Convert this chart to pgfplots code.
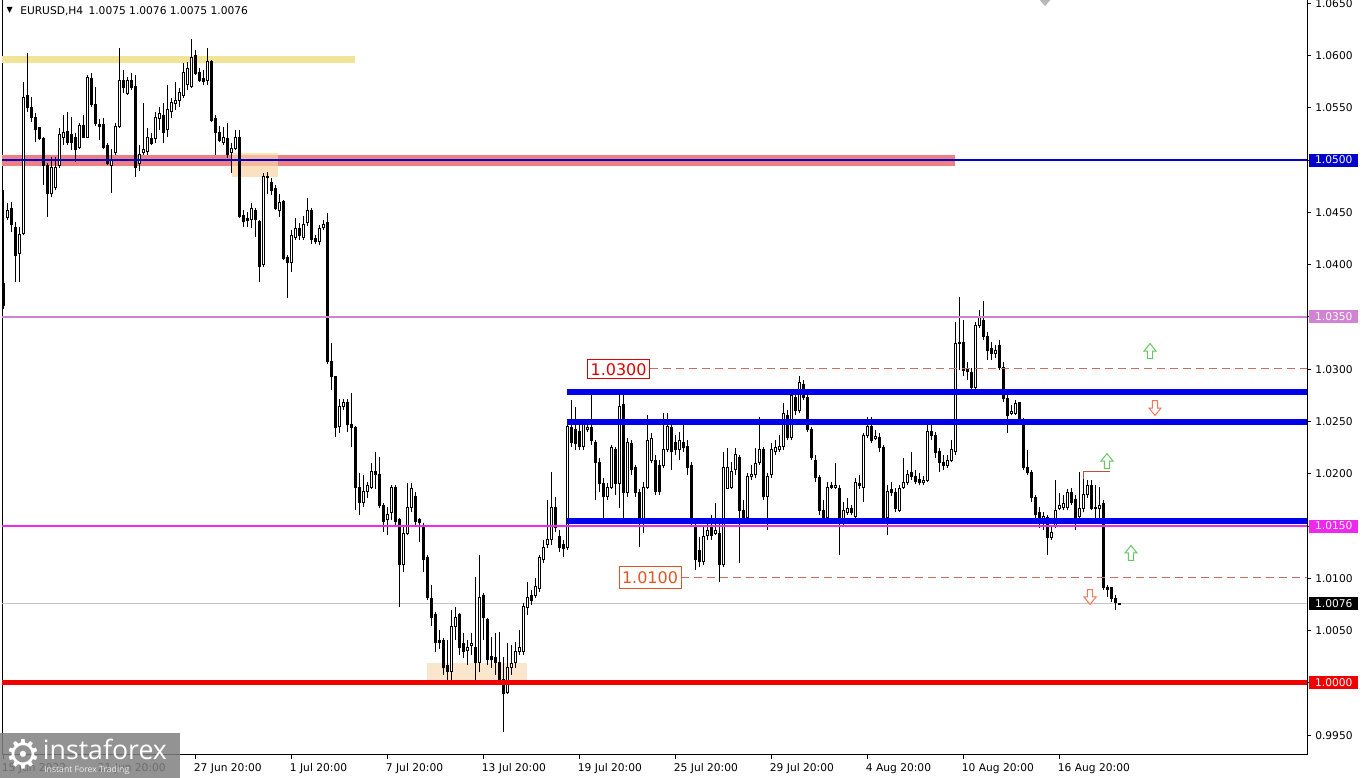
\documentclass[border=0pt]{standalone}
\usepackage{pgfplots}
\pgfplotsset{compat=1.18}
\usepackage{pgfplotstable}
\usepackage{fontspec}
\setmainfont{DejaVu Sans}
\newfontfamily\logofont{Open Sans}
\definecolor{mtblue}{RGB}{0,0,205}
\definecolor{bandblue}{RGB}{0,0,235}
\definecolor{yband}{RGB}{242,228,150}
\definecolor{salmon}{RGB}{240,128,128}
\definecolor{peach}{RGB}{250,212,165}
\definecolor{peachb}{RGB}{250,230,205}
\definecolor{orch}{RGB}{210,130,210}
\definecolor{magen}{RGB}{238,40,238}
\definecolor{redline}{RGB}{240,0,0}
\definecolor{dashc}{RGB}{200,110,100}
\definecolor{lab1}{RGB}{225,0,0}
\definecolor{lab2}{RGB}{225,85,35}
\definecolor{agreen}{RGB}{100,200,100}
\definecolor{ared}{RGB}{240,120,90}
\definecolor{brownr}{RGB}{180,80,70}
\newcommand{\pricebox}[3]{\node[anchor=west, fill=#2, text=white, inner sep=0pt, minimum width=36.75pt, minimum height=9.75pt, font=\fontsize{8}{9}\selectfont] at ([xshift=1.5pt]axis cs:326,#1) {#3};}
\newcommand{\uparr}[2]{\draw[agreen, line width=0.75pt, fill=white, shift={(axis cs:#1,#2)}] (-1.9pt,-5.6pt) -- (1.9pt,-5.6pt) -- (1.9pt,0pt) -- (4.5pt,0pt) -- (0pt,5.6pt) -- (-4.5pt,0pt) -- (-1.9pt,0pt) -- cycle;}
\newcommand{\dnarr}[2]{\draw[ared, line width=0.75pt, fill=white, shift={(axis cs:#1,#2)}] (-1.9pt,5.6pt) -- (1.9pt,5.6pt) -- (1.9pt,0pt) -- (4.5pt,0pt) -- (0pt,-5.6pt) -- (-4.5pt,0pt) -- (-1.9pt,0pt) -- cycle;}
\pgfplotsset{candle/.style={draw=none, mark=none, forget plot, /pgfplots/error bars/y dir=plus, /pgfplots/error bars/y explicit, /pgfplots/error bars/error mark=none}}
\begin{document}
\pgfplotstableread{
i o h l c
0 1.0382 1.0471 1.0358 1.0361
1 1.0445 1.0459 1.0443 1.0452
2 1.0454 1.0460 1.0431 1.0438
3 1.0436 1.0441 1.0383 1.0409
4 1.0411 1.0436 1.0383 1.0429
5 1.0430 1.0575 1.0428 1.0560
6 1.0562 1.0602 1.0546 1.0550
7 1.0550 1.0560 1.0536 1.0541
8 1.0541 1.0545 1.0517 1.0529
9 1.0531 1.0532 1.0519 1.0521
10 1.0521 1.0522 1.0476 1.0495
11 1.0495 1.0497 1.0446 1.0468
12 1.0468 1.0503 1.0465 1.0493
13 1.0474 1.0503 1.0471 1.0493
14 1.0495 1.0531 1.0492 1.0524
15 1.0522 1.0543 1.0514 1.0526
16 1.0527 1.0546 1.0514 1.0517
17 1.0524 1.0541 1.0510 1.0517
18 1.0522 1.0526 1.0498 1.0510
19 1.0512 1.0535 1.0511 1.0533
20 1.0533 1.0543 1.0521 1.0522
21 1.0522 1.0581 1.0521 1.0579
22 1.0578 1.0583 1.0551 1.0553
23 1.0553 1.0570 1.0533 1.0535
24 1.0534 1.0539 1.0519 1.0532
25 1.0534 1.0540 1.0511 1.0512
26 1.0514 1.0516 1.0495 1.0497
27 1.0495 1.0511 1.0469 1.0500
28 1.0507 1.0535 1.0505 1.0532
29 1.0532 1.0607 1.0531 1.0576
30 1.0576 1.0586 1.0564 1.0569
31 1.0564 1.0579 1.0562 1.0576
32 1.0576 1.0583 1.0567 1.0569
33 1.0570 1.0581 1.0484 1.0493
34 1.0497 1.0514 1.0490 1.0505
35 1.0507 1.0555 1.0505 1.0510
36 1.0508 1.0531 1.0505 1.0522
37 1.0521 1.0526 1.0514 1.0516
38 1.0521 1.0546 1.0516 1.0541
39 1.0540 1.0551 1.0529 1.0545
40 1.0543 1.0555 1.0516 1.0526
41 1.0529 1.0572 1.0522 1.0548
42 1.0546 1.0559 1.0540 1.0555
43 1.0554 1.0575 1.0548 1.0557
44 1.0557 1.0569 1.0551 1.0565
45 1.0562 1.0593 1.0559 1.0584
46 1.0572 1.0594 1.0567 1.0588
47 1.0570 1.0616 1.0569 1.0598
48 1.0600 1.0605 1.0581 1.0583
49 1.0584 1.0588 1.0575 1.0576
50 1.0578 1.0586 1.0572 1.0575
51 1.0576 1.0607 1.0572 1.0594
52 1.0594 1.0596 1.0536 1.0538
53 1.0540 1.0543 1.0505 1.0526
54 1.0526 1.0533 1.0517 1.0519
55 1.0517 1.0532 1.0514 1.0522
56 1.0521 1.0535 1.0502 1.0505
57 1.0507 1.0516 1.0488 1.0511
58 1.0511 1.0529 1.0510 1.0522
59 1.0522 1.0529 1.0445 1.0446
60 1.0447 1.0452 1.0436 1.0441
61 1.0444 1.0450 1.0436 1.0442
62 1.0443 1.0459 1.0435 1.0454
63 1.0452 1.0454 1.0426 1.0443
64 1.0441 1.0443 1.0383 1.0398
65 1.0400 1.0488 1.0398 1.0484
66 1.0483 1.0489 1.0468 1.0484
67 1.0479 1.0483 1.0467 1.0471
68 1.0473 1.0476 1.0452 1.0454
69 1.0452 1.0468 1.0446 1.0459
70 1.0460 1.0462 1.0404 1.0406
71 1.0407 1.0409 1.0368 1.0402
72 1.0402 1.0433 1.0393 1.0428
73 1.0426 1.0445 1.0424 1.0435
74 1.0435 1.0440 1.0424 1.0428
75 1.0426 1.0447 1.0424 1.0438
76 1.0440 1.0464 1.0437 1.0452
77 1.0452 1.0454 1.0420 1.0424
78 1.0425 1.0428 1.0420 1.0422
79 1.0422 1.0438 1.0419 1.0435
80 1.0436 1.0443 1.0433 1.0438
81 1.0440 1.0449 1.0305 1.0307
82 1.0307 1.0325 1.0280 1.0293
83 1.0293 1.0294 1.0235 1.0244
84 1.0245 1.0272 1.0239 1.0264
85 1.0264 1.0272 1.0261 1.0268
86 1.0268 1.0272 1.0240 1.0247
87 1.0247 1.0277 1.0226 1.0244
88 1.0244 1.0246 1.0165 1.0187
89 1.0187 1.0201 1.0161 1.0173
90 1.0173 1.0199 1.0168 1.0183
91 1.0183 1.0192 1.0177 1.0189
92 1.0187 1.0210 1.0185 1.0202
93 1.0202 1.0221 1.0185 1.0199
94 1.0199 1.0216 1.0167 1.0170
95 1.0170 1.0172 1.0144 1.0154
96 1.0156 1.0168 1.0141 1.0161
97 1.0163 1.0189 1.0156 1.0187
98 1.0187 1.0189 1.0151 1.0154
99 1.0156 1.0158 1.0073 1.0113
100 1.0113 1.0149 1.0106 1.0143
101 1.0143 1.0191 1.0141 1.0168
102 1.0168 1.0191 1.0163 1.0186
103 1.0178 1.0183 1.0151 1.0154
104 1.0156 1.0158 1.0135 1.0153
105 1.0151 1.0153 1.0106 1.0118
106 1.0120 1.0122 1.0079 1.0082
107 1.0081 1.0094 1.0054 1.0063
108 1.0065 1.0068 1.0030 1.0039
109 1.0041 1.0051 1.0032 1.0039
110 1.0041 1.0043 1.0008 1.0015
111 1.0017 1.0041 1.0003 1.0011
112 1.0011 1.0070 1.0003 1.0054
113 1.0054 1.0073 1.0041 1.0063
114 1.0065 1.0067 1.0027 1.0034
115 1.0038 1.0048 1.0024 1.0030
116 1.0031 1.0041 1.0017 1.0034
117 1.0036 1.0048 1.0027 1.0038
118 1.0034 1.0101 1.0003 1.0020
119 1.0020 1.0122 1.0010 1.0082
120 1.0084 1.0086 1.0041 1.0063
121 1.0061 1.0062 1.0017 1.0022
122 1.0025 1.0044 1.0014 1.0022
123 1.0024 1.0048 1.0008 1.0020
124 1.0020 1.0049 0.9998 1.0003
125 1.0003 1.0025 0.9953 0.9990
126 0.9991 1.0038 0.9989 1.0015
127 1.0015 1.0036 1.0008 1.0019
128 1.0020 1.0039 1.0014 1.0030
129 1.0030 1.0051 1.0027 1.0034
130 1.0030 1.0076 1.0027 1.0073
131 1.0072 1.0097 1.0065 1.0082
132 1.0084 1.0089 1.0075 1.0079
133 1.0084 1.0100 1.0081 1.0092
134 1.0090 1.0122 1.0087 1.0120
135 1.0118 1.0137 1.0115 1.0130
136 1.0132 1.0175 1.0129 1.0137
137 1.0137 1.0202 1.0132 1.0168
138 1.0168 1.0178 1.0144 1.0149
139 1.0140 1.0146 1.0125 1.0130
140 1.0132 1.0137 1.0120 1.0129
141 1.0130 1.0247 1.0127 1.0245
142 1.0244 1.0271 1.0226 1.0230
143 1.0242 1.0264 1.0223 1.0229
144 1.0240 1.0247 1.0223 1.0226
145 1.0226 1.0251 1.0223 1.0247
146 1.0242 1.0250 1.0240 1.0244
147 1.0244 1.0275 1.0228 1.0232
148 1.0230 1.0232 1.0175 1.0211
149 1.0211 1.0215 1.0183 1.0191
150 1.0191 1.0196 1.0158 1.0178
151 1.0178 1.0191 1.0175 1.0187
152 1.0187 1.0228 1.0185 1.0225
153 1.0223 1.0226 1.0180 1.0191
154 1.0191 1.0277 1.0167 1.0264
155 1.0266 1.0277 1.0156 1.0182
156 1.0182 1.0234 1.0178 1.0230
157 1.0229 1.0232 1.0199 1.0204
158 1.0206 1.0208 1.0178 1.0182
159 1.0182 1.0185 1.0130 1.0153
160 1.0153 1.0192 1.0143 1.0187
161 1.0187 1.0256 1.0185 1.0232
162 1.0213 1.0239 1.0210 1.0234
163 1.0213 1.0218 1.0180 1.0183
164 1.0208 1.0213 1.0180 1.0183
165 1.0208 1.0258 1.0206 1.0223
166 1.0223 1.0258 1.0221 1.0245
167 1.0244 1.0251 1.0204 1.0221
168 1.0230 1.0237 1.0218 1.0223
169 1.0223 1.0240 1.0213 1.0232
170 1.0230 1.0249 1.0221 1.0225
171 1.0226 1.0232 1.0199 1.0206
172 1.0208 1.0211 1.0151 1.0153
173 1.0149 1.0158 1.0108 1.0118
174 1.0127 1.0140 1.0111 1.0116
175 1.0116 1.0151 1.0113 1.0140
176 1.0141 1.0158 1.0137 1.0146
177 1.0151 1.0161 1.0137 1.0141
178 1.0143 1.0172 1.0141 1.0146
179 1.0143 1.0153 1.0097 1.0113
180 1.0113 1.0221 1.0111 1.0206
181 1.0186 1.0225 1.0185 1.0206
182 1.0187 1.0211 1.0185 1.0202
183 1.0204 1.0225 1.0199 1.0218
184 1.0216 1.0218 1.0115 1.0165
185 1.0165 1.0175 1.0154 1.0158
186 1.0158 1.0201 1.0154 1.0197
187 1.0197 1.0208 1.0194 1.0199
188 1.0199 1.0225 1.0196 1.0210
189 1.0211 1.0254 1.0208 1.0223
190 1.0223 1.0226 1.0175 1.0178
191 1.0178 1.0201 1.0146 1.0197
192 1.0199 1.0229 1.0196 1.0223
193 1.0221 1.0232 1.0218 1.0225
194 1.0223 1.0237 1.0221 1.0226
195 1.0226 1.0268 1.0223 1.0258
196 1.0256 1.0261 1.0232 1.0235
197 1.0235 1.0278 1.0232 1.0275
198 1.0273 1.0278 1.0256 1.0261
199 1.0261 1.0294 1.0258 1.0287
200 1.0285 1.0290 1.0271 1.0273
201 1.0273 1.0275 1.0240 1.0242
202 1.0242 1.0245 1.0213 1.0216
203 1.0213 1.0218 1.0192 1.0196
204 1.0196 1.0199 1.0161 1.0165
205 1.0165 1.0175 1.0154 1.0158
206 1.0158 1.0192 1.0156 1.0187
207 1.0189 1.0192 1.0185 1.0187
208 1.0187 1.0210 1.0185 1.0189
209 1.0186 1.0189 1.0122 1.0153
210 1.0153 1.0173 1.0151 1.0165
211 1.0163 1.0177 1.0161 1.0167
212 1.0167 1.0170 1.0161 1.0163
213 1.0159 1.0196 1.0156 1.0192
214 1.0191 1.0199 1.0185 1.0189
215 1.0187 1.0239 1.0173 1.0237
216 1.0237 1.0254 1.0234 1.0245
217 1.0245 1.0254 1.0229 1.0232
218 1.0234 1.0242 1.0232 1.0236
219 1.0235 1.0239 1.0221 1.0225
220 1.0225 1.0228 1.0156 1.0158
221 1.0158 1.0189 1.0141 1.0183
222 1.0185 1.0192 1.0179 1.0182
223 1.0182 1.0186 1.0163 1.0167
224 1.0165 1.0189 1.0163 1.0186
225 1.0187 1.0215 1.0185 1.0192
226 1.0192 1.0204 1.0189 1.0199
227 1.0201 1.0221 1.0194 1.0197
228 1.0197 1.0204 1.0190 1.0193
229 1.0195 1.0201 1.0189 1.0192
230 1.0192 1.0198 1.0189 1.0194
231 1.0194 1.0247 1.0192 1.0240
232 1.0240 1.0247 1.0232 1.0237
233 1.0237 1.0240 1.0215 1.0220
234 1.0221 1.0225 1.0202 1.0211
235 1.0211 1.0218 1.0204 1.0208
236 1.0208 1.0218 1.0206 1.0213
237 1.0213 1.0232 1.0211 1.0223
238 1.0221 1.0345 1.0218 1.0325
239 1.0325 1.0369 1.0299 1.0326
240 1.0326 1.0347 1.0294 1.0299
241 1.0300 1.0307 1.0290 1.0298
242 1.0297 1.0301 1.0278 1.0283
243 1.0283 1.0345 1.0280 1.0342
244 1.0342 1.0357 1.0339 1.0349
245 1.0347 1.0365 1.0328 1.0331
246 1.0331 1.0336 1.0309 1.0318
247 1.0320 1.0326 1.0309 1.0315
248 1.0315 1.0323 1.0311 1.0318
249 1.0323 1.0328 1.0299 1.0302
250 1.0302 1.0307 1.0269 1.0272
251 1.0272 1.0275 1.0239 1.0256
252 1.0258 1.0266 1.0256 1.0260
253 1.0258 1.0271 1.0256 1.0267
254 1.0268 1.0269 1.0249 1.0251
255 1.0251 1.0253 1.0204 1.0206
256 1.0206 1.0223 1.0199 1.0201
257 1.0201 1.0204 1.0173 1.0177
258 1.0177 1.0180 1.0156 1.0161
259 1.0163 1.0168 1.0148 1.0154
260 1.0156 1.0163 1.0146 1.0159
261 1.0158 1.0161 1.0122 1.0139
262 1.0139 1.0151 1.0137 1.0144
263 1.0151 1.0194 1.0148 1.0165
264 1.0167 1.0182 1.0165 1.0170
265 1.0168 1.0180 1.0165 1.0172
266 1.0168 1.0185 1.0165 1.0182
267 1.0182 1.0186 1.0170 1.0173
268 1.0175 1.0180 1.0146 1.0158
269 1.0159 1.0202 1.0156 1.0167
270 1.0167 1.0202 1.0163 1.0180
271 1.0180 1.0194 1.0177 1.0189
272 1.0189 1.0194 1.0165 1.0167
273 1.0168 1.0189 1.0156 1.0167
274 1.0167 1.0187 1.0154 1.0170
275 1.0172 1.0175 1.0089 1.0091
276 1.0091 1.0094 1.0082 1.0089
277 1.0091 1.0092 1.0077 1.0081
278 1.0081 1.0084 1.0070 1.0077
279 1.0075 1.0076 1.0075 1.0076
}\candles
\begin{tikzpicture}[x=1pt,y=1pt]
\begin{axis}[
  scale only axis, width=978.75pt, height=566.25pt,
  xmin=-0.25, xmax=326, ymin=0.99311, ymax=1.06531,
  clip=false,
  axis line style={line width=0.75pt, black},
  tick style={black, line width=0.75pt},
  tick align=outside, major tick length=3pt,
  xtick pos=bottom, ytick pos=right, yticklabel pos=right,
  xtick={0,24,48,72,96,120,144,168,192,216,240,264},
  xticklabels={15 Jun 2022,21 Jun 20:00,27 Jun 20:00,1 Jul 20:00,7 Jul 20:00,13 Jul 20:00,19 Jul 20:00,25 Jul 20:00,29 Jul 20:00,4 Aug 20:00,10 Aug 20:00,16 Aug 20:00},
  xticklabel style={anchor=north west, inner sep=0pt, xshift=-1pt, yshift=-3pt, font=\fontsize{8}{9}\selectfont},
  ytick={0.995,1.000,1.005,1.010,1.015,1.020,1.025,1.030,1.035,1.040,1.045,1.050,1.055,1.060,1.065},
  yticklabels={0.9950,{},1.0050,1.0100,{},1.0200,1.0250,1.0300,{},1.0400,1.0450,{},1.0550,1.0600,1.0650},
  yticklabel style={anchor=west, inner sep=0pt, xshift=3pt, font=\fontsize{8}{9}\selectfont},
]
\coordinate (pageSW) at ([xshift=-1.5pt,yshift=-17.25pt]rel axis cs:0,0);
% background bands
\addplot[draw=none, fill=yband] coordinates {(-0.25,1.0600) (88,1.0600) (88,1.0593) (-0.25,1.0593)} -- cycle;
\addplot[draw=none, fill=salmon] coordinates {(-0.25,1.0505) (238,1.0505) (238,1.0494) (-0.25,1.0494)} -- cycle;
\addplot[draw=none, fill=peach, fill opacity=0.7] coordinates {(57.25,1.0507) (68.75,1.0507) (68.75,1.0484) (57.25,1.0484)} -- cycle;
\addplot[draw=none, fill=peachb] coordinates {(106,1.0019) (131,1.0019) (131,0.9998) (106,0.9998)} -- cycle;
\addplot[gray!45, line width=0.75pt] coordinates {(-0.25,1.0076) (326,1.0076)};
% wicks
\addplot[candle, error bars/error bar style={line width=0.75pt, black}]
  table[x=i, y=l, y error plus expr=\thisrow{h}-\thisrow{l}] {\candles};
% bear bodies
\addplot[candle, restrict y to domain=0.5:1.5,
  error bars/error bar style={line width=2.25pt, black, shorten <=-0.375pt, shorten >=-0.375pt}]
  table[x=i, y expr={\thisrow{c}<\thisrow{o} ? \thisrow{c} : 0}, y error plus expr=\thisrow{o}-\thisrow{c}] {\candles};
% bull bodies outline
\addplot[candle, restrict y to domain=0.5:1.5,
  error bars/error bar style={line width=2.25pt, black, shorten <=-0.375pt, shorten >=-0.375pt}]
  table[x=i, y expr={\thisrow{c}>=\thisrow{o} ? \thisrow{o} : 0}, y error plus expr=\thisrow{c}-\thisrow{o}] {\candles};
% bull bodies interior
\addplot[candle, restrict y to domain=0.5:1.5,
  error bars/error bar style={line width=0.75pt, white, shorten <=0.375pt, shorten >=0.375pt}]
  table[x=i, y expr={\thisrow{c}-\thisrow{o}>0.00012 ? \thisrow{o} : 0}, y error plus expr=\thisrow{c}-\thisrow{o}] {\candles};
% lines
\addplot[mtblue, line width=1.5pt] coordinates {(-0.25,1.0500) (326,1.0500)};
\addplot[orch, line width=1.5pt] coordinates {(-0.25,1.0350) (326,1.0350)};
\addplot[magen, line width=2pt] coordinates {(-0.25,1.0150) (326,1.0150)};
\addplot[redline, line width=3.75pt] coordinates {(-0.25,1.0000) (326,1.0000)};
\addplot[bandblue, line width=4.5pt] coordinates {(141,1.0278) (326,1.0278)};
\addplot[bandblue, line width=4.5pt] coordinates {(141,1.0250) (326,1.0250)};
\addplot[bandblue, line width=4.5pt] coordinates {(141,1.01545) (326,1.01545)};
\addplot[dashc, line width=0.75pt, dash pattern=on 6pt off 3.75pt] coordinates {(161.75,1.0301) (326,1.0301)};
\addplot[dashc, line width=0.75pt, dash pattern=on 6pt off 3.75pt] coordinates {(169.5,1.0101) (326,1.0101)};
\addplot[brownr, line width=0.75pt] coordinates {(270,1.0195) (270,1.0202) (276.75,1.0202)};
% level labels
\node[draw=lab1, text=lab1, fill=white, line width=0.75pt, inner sep=0pt, minimum width=47pt, minimum height=14pt, font=\fontsize{12}{14}\selectfont] at (axis cs:153.9,1.0300) {1.0300};
\node[draw=lab2, text=lab2, fill=white, line width=0.75pt, inner sep=0pt, minimum width=46.5pt, minimum height=17pt, font=\fontsize{12}{14}\selectfont] at (axis cs:161.75,1.01009) {1.0100};
% arrows
\uparr{286.75}{1.03174}
\uparr{276}{1.02122}
\uparr{282}{1.01243}
\dnarr{288}{1.02629}
\dnarr{271.75}{1.00822}
% top marker
\fill[gray!55] ([xshift=-4pt]axis cs:260.5,1.06531) -- ([xshift=4pt]axis cs:260.5,1.06531) -- ([yshift=-4.5pt]axis cs:260.5,1.06531) -- cycle;
% right price boxes
\pricebox{1.0500}{mtblue}{1.0500}
\pricebox{1.0350}{orch}{1.0350}
\pricebox{1.0150}{magen}{1.0150}
\pricebox{1.0076}{black}{1.0076}
\pricebox{1.0000}{redline}{1.0000}
\end{axis}
\begin{scope}[shift={(pageSW)}]
% title
\node[font=\fontsize{6}{7}\selectfont, inner sep=0pt] at (7.3,575.8) {▼};
\node[anchor=west, inner sep=0pt, font=\fontsize{8}{9}\selectfont] at (15,575.4) {EURUSD,H4\enspace 1.0075 1.0076 1.0075 1.0076};
% logo
\fill[black!50, fill opacity=0.85] (0,0) rectangle (135,33.75);
\node[text=white, inner sep=0pt, font=\fontsize{30}{30}\selectfont] at (17.6,17.6) {⚙};
\node[anchor=base west, text=white, inner sep=0pt, font=\logofont\fontsize{20}{20}\selectfont] at (32,13.5) {instaforex};
\node[anchor=base west, text=white!85!gray, inner sep=0pt, font=\logofont\fontsize{6.5}{7}\selectfont] at (33,3.8) {Instant Forex Trading};
\end{scope}
% page frame
\pgfresetboundingbox
\path (pageSW) rectangle ++(1023.75,583.5);
\end{tikzpicture}
\end{document}
